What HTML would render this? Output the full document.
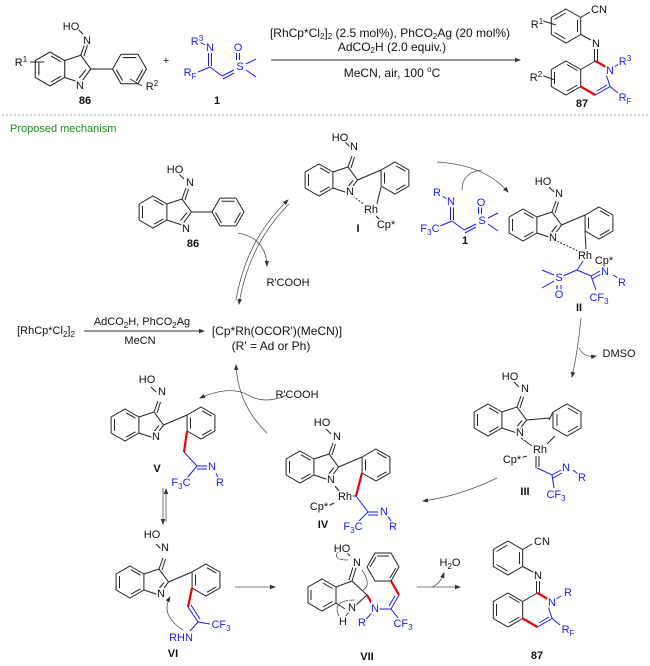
<!DOCTYPE html>
<html><head><meta charset="utf-8"><style>
html,body{margin:0;padding:0;background:#fff;}
svg{display:block;font-family:"Liberation Sans",Arial,sans-serif;}
.t{font-size:11px;fill:#111;text-anchor:middle;dominant-baseline:central;stroke:#fff;stroke-width:3px;paint-order:stroke;}
.b{fill:#1a1aff;}
.lb{font-size:11px;font-weight:bold;fill:#111;text-anchor:middle;dominant-baseline:central;}
.s{font-size:11px;fill:#111;text-anchor:middle;dominant-baseline:central;}
.c{font-size:12px;}
</style></head><body>
<svg width="650" height="666" viewBox="0 0 650 666" xmlns="http://www.w3.org/2000/svg">
<defs>
<marker id="ah" markerWidth="6" markerHeight="6" refX="5" refY="3" orient="auto" markerUnits="userSpaceOnUse"><path d="M0,0.8 L6,3 L0,5.2 Z" fill="#333"/></marker>
<g id="indole" fill="none" stroke="#222" stroke-width="1">
<path d="M0,-16 L13.9,-8 L13.9,8 L0,16 L-13.9,8 L-13.9,-8 Z"/>
<path d="M-10.5,-6 L-10.5,6 M1,-12.2 L10.5,-6.8 M10.5,6.8 L1,12.2"/>
<path d="M13.9,-8 L29,-13 L38.5,0 L29,13 L13.9,8"/>
<path d="M27.5,8.5 L34,0.5"/>
<path d="M29,-13 L33,-24 M32,-12 L35.5,-23"/>
<path d="M31,-33 L26,-38"/>
</g>
<g id="phP" fill="none" stroke="#222" stroke-width="1">
<path d="M38.5,0 L62.1,-10"/>
<path d="M76,-18 L89.9,-10 L89.9,6 L76,14 L62.1,6 L62.1,-10 Z"/>
<path d="M77,-14.2 L86.5,-8.8 M86.5,4.8 L77,10.2 M65.5,3.5 L65.5,-7.5"/>
</g>
<g id="phF" fill="none" stroke="#222" stroke-width="1">
<path d="M38.5,0 L59,0"/>
<path d="M59,0 L67,-13.9 L83,-13.9 L91,0 L83,13.9 L67,13.9 Z"/>
<path d="M68.5,-10.8 L81.5,-10.8 M87.5,0.5 L81.5,11 M68.5,11 L62.5,0.5"/>
</g>
<g id="prod" fill="none" stroke-width="1">
<g stroke="#222">
<path d="M566,9 L580.7,17.5 L580.7,34.5 L566,43 L551.3,34.5 L551.3,17.5 Z"/>
<path d="M554.5,19.5 L565.5,13 M577.5,20 L577.5,32 M554.5,32.5 L565.5,39"/>
<path d="M580.7,17.5 L590,12 M580.7,34.5 L591,40"/>
<path d="M594.5,49 L594.5,61 M597.5,49 L597.5,61"/>
<path d="M566,61 L580.7,69.5 L580.7,86.5 L566,95 L551.3,86.5 L551.3,69.5 Z"/>
<path d="M554.5,72 L554.5,84 M567,64.5 L577.5,70.5 M577.5,85 L567,91"/>
<path d="M580.7,69.5 L595.4,61"/>
</g>
<path d="M595.4,61 L606,67 M580.7,86.5 L595.4,95" stroke="#e00" stroke-width="2.2"/>
<path d="M595.4,95 L610.1,86.5 L606,74 M597,91 L607,85 M610.1,86.5 L618,93 M614,67 L619,64" stroke="#1a1aff"/>
</g>
<g id="reag" fill="none" stroke="#1a1aff" stroke-width="1">
<path d="M205,45 L200,42 M208.5,53 L208.5,66 M211.5,53 L211.5,66 M210,67 L198,72 M210,67 L222,76 M222,76 L234,70 M223,79 L234,73 M236.5,60 L236.5,53 M239.5,60 L239.5,53 M246,64 L256,59 M246,70 L256,77"/>
</g>
</defs>

<!-- ===== TOP SCHEME ===== -->
<g transform="translate(50,69) scale(1.06)"><use href="#indole"/><use href="#phF"/></g>
<path d="M30,62 L44,62 M130,79 L142,86" stroke="#222" stroke-width="1" fill="none"/>
<text class="t" x="71" y="27">HO</text>
<text class="t" x="87" y="41">N</text>
<text class="t" x="80" y="86">N</text>
<text class="t" x="21" y="63">R<tspan font-size="8" dy="-4">1</tspan></text>
<text class="t" x="152" y="87">R<tspan font-size="8" dy="-4">2</tspan></text>
<text class="lb" x="85" y="101">86</text>
<text class="s" x="166" y="61">+</text>

<use href="#reag"/>
<text class="t b" x="197" y="42">R<tspan font-size="8" dy="-4">3</tspan></text>
<text class="t b" x="210" y="48">N</text>
<text class="t b" x="190" y="73">R<tspan font-size="8" dy="3">F</tspan></text>
<text class="t b" x="240" y="67">S</text>
<text class="t b" x="238" y="48">O</text>
<text class="lb" x="217" y="101">1</text>

<line x1="271" y1="60" x2="520" y2="60" stroke="#333" stroke-width="1" marker-end="url(#ah)"/>
<text class="s c" x="390" y="33">[RhCp*Cl<tspan font-size="8" dy="3">2</tspan><tspan dy="-3">]</tspan><tspan font-size="8" dy="3">2</tspan><tspan dy="-3"> (2.5 mol%), PhCO</tspan><tspan font-size="8" dy="3">2</tspan><tspan dy="-3">Ag (20 mol%)</tspan></text>
<text class="s c" x="392" y="47">AdCO<tspan font-size="8" dy="3">2</tspan><tspan dy="-3">H (2.0 equiv.)</tspan></text>
<text class="s c" x="392" y="73">MeCN, air,  100 <tspan font-size="8" dy="-4">o</tspan><tspan dy="4">C</tspan></text>

<use href="#prod"/>
<path d="M540,20 L556,25 M541,75 L555,80" stroke="#222" stroke-width="1"/>
<text class="t" x="599" y="10">CN</text>
<text class="t" x="596" y="44">N</text>
<text class="t b" x="610" y="71">N</text>
<text class="t" x="537" y="25">R<tspan font-size="8" dy="-4">1</tspan></text>
<text class="t" x="536" y="78">R<tspan font-size="8" dy="-4">2</tspan></text>
<text class="t b" x="625" y="62">R<tspan font-size="8" dy="-4">3</tspan></text>
<text class="t b" x="625" y="98">R<tspan font-size="8" dy="3">F</tspan></text>
<text class="lb" x="582" y="104">87</text>

<line x1="2" y1="115" x2="648" y2="115" stroke="#999" stroke-width="1" stroke-dasharray="2,2"/>
<text x="10" y="132" font-size="11" fill="#1a8a1a">Proposed mechanism</text>

<!-- ===== MECHANISM ===== -->
<g transform="translate(153,212)"><use href="#indole"/><use href="#phF"/></g>
<text class="t" x="175" y="170">HO</text>
<text class="t" x="190" y="183">N</text>
<text class="t" x="186" y="229">N</text>
<text class="lb" x="193" y="244">86</text>

<!-- I -->
<g transform="translate(319,180)"><use href="#indole"/><use href="#phP"/></g>
<path d="M353,196 L366,206" stroke="#222" stroke-dasharray="2,1.5" fill="none"/>
<path d="M377,204 L381,187 M376,216 L380,220" stroke="#222" fill="none"/>
<text class="t" x="340" y="138">HO</text>
<text class="t" x="354" y="147">N</text>
<text class="t" x="350" y="192">N</text>
<text class="t" x="371" y="210">Rh</text>
<text class="t" x="386" y="225">Cp*</text>
<text class="lb" x="358" y="229">I</text>

<g transform="translate(242,154)"><use href="#reag"/></g>
<text class="t b" x="437" y="193">R</text>
<text class="t b" x="451" y="202">N</text>
<text class="t b" x="430" y="229">F<tspan font-size="8" dy="3">3</tspan><tspan dy="-3">C</tspan></text>
<text class="t b" x="482" y="221">S</text>
<text class="t b" x="481" y="203">O</text>
<text class="lb" x="465" y="241">1</text>

<!-- II -->
<g transform="translate(523,225)"><use href="#indole"/><use href="#phP"/></g>
<path d="M557,241 L580,252" stroke="#222" stroke-dasharray="2,1.5" fill="none"/>
<path d="M585,231 L586,249" stroke="#222" fill="none"/>
<path d="M583,261 L577,270 M577,270 L563,276 M577,270 L591,276 M591,276 L600,271 M592,279 L601,274 M591,276 L596,290 M554,275 L542,270 M554,281 L542,288 M557,285 L557,290 M561,285 L561,290 M613,275 L618,278" stroke="#1a1aff" fill="none"/>
<text class="t" x="543" y="182">HO</text>
<text class="t" x="559" y="194">N</text>
<text class="t" x="553" y="238">N</text>
<text class="t" x="585" y="256">Rh</text>
<text class="t" x="604" y="261">Cp*</text>
<text class="t b" x="559" y="278">S</text>
<text class="t b" x="559" y="295">O</text>
<text class="t b" x="605" y="272">N</text>
<text class="t b" x="622" y="283">R</text>
<text class="t b" x="599" y="298">CF<tspan font-size="8" dy="3">3</tspan></text>
<text class="lb" x="579" y="308">II</text>

<!-- III -->
<g transform="translate(488,420)"><use href="#indole"/></g>
<path d="M526.5,420 L550,418 M549,420 L553,412 L553,428 L567,436 L581,428 L581,412 L567,404 L553,412 M557,414 L557,426 M568,408 L578,414 M578,426 L568,432" stroke="#222" fill="none"/>
<path d="M521,438 L532,446 M547,444 L555,436 M527,456 L520,458" stroke="#222" fill="none"/>
<path d="M536,456 L536,468 M539,456 L539,467" stroke="#222" fill="none"/>
<path d="M537,468 L552,475 L561,470 M553,478 L562,473 M552,475 L554,488 M573,470 L578,474" stroke="#1a1aff" fill="none"/>
<text class="t" x="510" y="377">HO</text>
<text class="t" x="525" y="389">N</text>
<text class="t" x="520" y="433">N</text>
<text class="t" x="540" y="450">Rh</text>
<text class="t" x="512" y="460">Cp*</text>
<text class="t b" x="566" y="468">N</text>
<text class="t b" x="582" y="478">R</text>
<text class="t b" x="556" y="495">CF<tspan font-size="8" dy="3">3</tspan></text>
<text class="lb" x="525" y="492">III</text>

<!-- IV -->
<g transform="translate(300,467)"><use href="#indole"/><use href="#phP"/></g>
<path d="M334,485 L340,492 M334,503 L328,506" stroke="#222" fill="none"/>
<path d="M362,473 L356,496" stroke="#e00" stroke-width="2.2" fill="none"/>
<path d="M356,496 L351,496 M356,496 L368,512 L378,512 M368,515 L378,515 M368,512 L358,522 M388,516 L391,521" stroke="#1a1aff" fill="none"/>
<text class="t" x="322" y="423">HO</text>
<text class="t" x="337" y="437">N</text>
<text class="t" x="331" y="480">N</text>
<text class="t" x="345" y="497">Rh</text>
<text class="t" x="319" y="507">Cp*</text>
<text class="t b" x="384" y="512">N</text>
<text class="t b" x="353" y="527">F<tspan font-size="8" dy="3">3</tspan><tspan dy="-3">C</tspan></text>
<text class="t b" x="393" y="527">R</text>
<text class="lb" x="323" y="525">IV</text>

<!-- V -->
<g transform="translate(125,425)"><use href="#indole"/><use href="#phP"/></g>
<path d="M187,431 L184,452" stroke="#e00" stroke-width="2.2" fill="none"/>
<path d="M184,452 L197,466 L207,466 M197,469 L207,469 M197,466 L187,478 M215,472 L218,477" stroke="#1a1aff" fill="none"/>
<text class="t" x="147" y="380">HO</text>
<text class="t" x="162" y="392">N</text>
<text class="t" x="156" y="437">N</text>
<text class="t b" x="212" y="467">N</text>
<text class="t b" x="181" y="483">F<tspan font-size="8" dy="3">3</tspan><tspan dy="-3">C</tspan></text>
<text class="t b" x="220" y="483">R</text>
<text class="lb" x="157" y="469">V</text>

<!-- VI -->
<g transform="translate(130,582)"><use href="#indole"/><use href="#phP"/></g>
<path d="M192,588 L188,607" stroke="#e00" stroke-width="2.2" fill="none"/>
<path d="M188,607 L198,622 M191,605 L200,619 M198,622 L210,624 M198,622 L190,631" stroke="#1a1aff" fill="none"/>
<path d="M183,630 Q160,615 170,597" stroke="#555" stroke-width="0.8" fill="none" marker-end="url(#ah)"/>
<text class="t" x="152" y="535">HO</text>
<text class="t" x="165" y="548">N</text>
<text class="t" x="161" y="594">N</text>
<text class="t b" x="221" y="625">CF<tspan font-size="8" dy="3">3</tspan></text>
<text class="t b" x="181" y="638">RHN</text>
<text class="lb" x="173" y="654">VI</text>

<!-- VII -->
<g fill="none" stroke="#222" stroke-width="1">
<path d="M322,579 L336,587 L336,603 L322,611 L308,603 L308,587 Z M311,590 L311,600 M323,583 L332.5,588.5 M332.5,601.5 L323,607"/>
<path d="M336,587 L352,581 L367,595 L354,607 M345,609 L336,603 M352,581 L356,568 M349,580 L353,567 M350,556 L346,552 M349,612 L345,617"/>
<path d="M375,581 L367,567 L375,553 L391,553 L399,567 L391,581 Z M377,556 L389,556 M396,568 L390,578 M370,567 L376,557"/>
</g>
<path d="M391,581 L399,595 M367,595 L374,607" stroke="#e00" stroke-width="2.2" fill="none"/>
<path d="M378,609 L391,609 L399,595 M389,606 L395,596 M391,609 L398,618 M373,612 L366,619" stroke="#1a1aff" fill="none"/>
<path d="M338,552 Q332,560 348,560 M362,570 Q372,585 363,590 M340,618 Q330,600 355,600" stroke="#555" stroke-width="0.8" fill="none"/>
<text class="t" x="342" y="549">HO</text>
<text class="t" x="357" y="563">N</text>
<text class="t" x="352" y="608">N</text>
<text class="t" x="343" y="622">H</text>
<text class="t b" x="375" y="609">N</text>
<text class="t b" x="362" y="623">R</text>
<text class="t b" x="403" y="624">CF<tspan font-size="8" dy="3">3</tspan></text>
<text class="lb" x="367" y="657">VII</text>

<!-- 87 mech -->
<g transform="translate(-58,532)"><use href="#prod"/></g>
<text class="t" x="542" y="542">CN</text>
<text class="t" x="538" y="576">N</text>
<text class="t b" x="552" y="603">N</text>
<text class="t b" x="568" y="593">R</text>
<text class="t b" x="568" y="630">R<tspan font-size="8" dy="3">F</tspan></text>
<text class="lb" x="537" y="656">87</text>

<!-- catalyst -->
<text class="s" x="46" y="331">[RhCp*Cl<tspan font-size="8" dy="3">2</tspan><tspan dy="-3">]</tspan><tspan font-size="8" dy="3">2</tspan></text>
<line x1="84" y1="331" x2="204" y2="331" stroke="#333" stroke-width="1" marker-end="url(#ah)"/>
<text class="s" x="142" y="322">AdCO<tspan font-size="8" dy="3">2</tspan><tspan dy="-3">H, PhCO</tspan><tspan font-size="8" dy="3">2</tspan><tspan dy="-3">Ag</tspan></text>
<text class="s" x="140" y="341">MeCN</text>
<text class="s c" x="277" y="331">[Cp*Rh(OCOR')(MeCN)]</text>
<text class="s c" x="271" y="346">(R' = Ad or Ph)</text>

<!-- cycle arrows -->
<g fill="none" stroke="#555" stroke-width="0.8">
<path d="M236,300 Q246,240 288,200" marker-end="url(#ah)"/>
<path d="M289,204 Q249,244 239,304" marker-end="url(#ah)"/>
<path d="M238,233 Q266,238 267,266" marker-end="url(#ah)"/>
<path d="M437,162 Q485,165 508,192" marker-end="url(#ah)"/>
<path d="M462,190 Q462,172 482,170"/>
<path d="M581,318 Q578,350 572,377" marker-end="url(#ah)"/>
<path d="M579,348 Q584,358 596,356" marker-end="url(#ah)"/>
<path d="M497,478 Q460,496 423,501" marker-end="url(#ah)"/>
<path d="M267,433 Q238,405 236,365" marker-end="url(#ah)"/>
<path d="M287,395 Q265,405 248,395 Q230,385 200,398" marker-end="url(#ah)"/>
<path d="M163,488 L163,524" marker-end="url(#ah)"/>
<path d="M166,522 L166,489" marker-end="url(#ah)"/>
<path d="M235,587 L275,587" marker-end="url(#ah)"/>
<path d="M417,587 L460,587" marker-end="url(#ah)"/>
<path d="M432,587 Q440,584 444,573" marker-end="url(#ah)"/>
</g>
<text class="s" x="288" y="283">R'COOH</text>
<text class="s" x="297" y="395">R'COOH</text>
<text class="s" x="619" y="354">DMSO</text>
<text class="s" x="450" y="563">H<tspan font-size="8" dy="3">2</tspan><tspan dy="-3">O</tspan></text>
</svg>
</body></html>
